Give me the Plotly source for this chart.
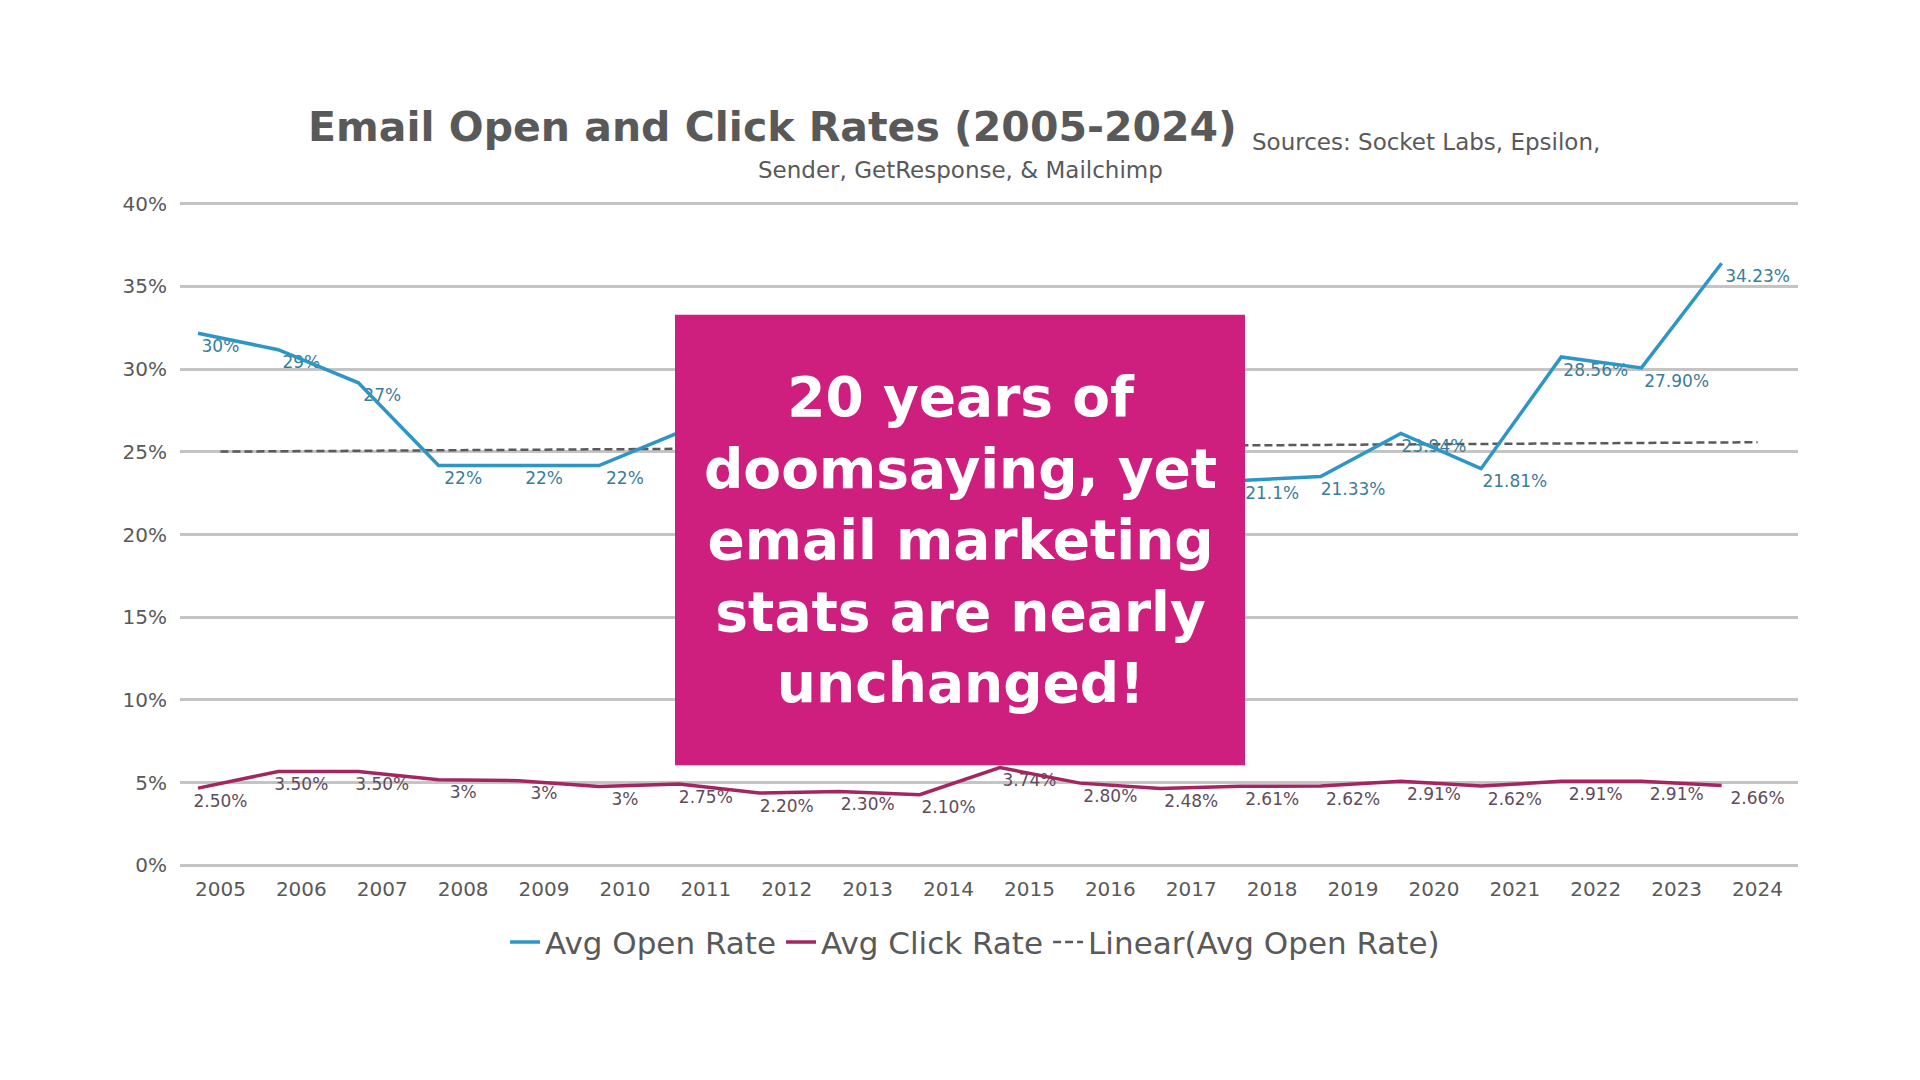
import numpy as np
import plotly.graph_objects as go

# ---------------- data ----------------
years = ["2005", "2006", "2007", "2008", "2009", "2010", "2011", "2012", "2013", "2014",
         "2015", "2016", "2017", "2018", "2019", "2020", "2021", "2022", "2023", "2024"]

# 2011-2017 open rates sit behind the call-out box in the source; estimated
open_rate = [30, 29, 27, 22, 22, 22, 24, 27.5, 27, 26,
             24.5, 24, 22, 21.1, 21.33, 23.94, 21.81, 28.56, 27.90, 34.23]
open_labels = ["30%", "29%", "27%", "22%", "22%", "22%", "", "", "", "",
               "", "", "", "21.1%", "21.33%", "23.94%", "21.81%", "28.56%", "27.90%", "34.23%"]

click_rate = [2.50, 3.50, 3.50, 3.0, 2.95, 2.6, 2.75, 2.20, 2.30, 2.10,
              3.74, 2.80, 2.48, 2.61, 2.62, 2.91, 2.62, 2.91, 2.91, 2.66]
click_labels = ["2.50%", "3.50%", "3.50%", "3%", "3%", "3%", "2.75%", "2.20%", "2.30%", "2.10%",
                "3.74%", "2.80%", "2.48%", "2.61%", "2.62%", "2.91%", "2.62%", "2.91%", "2.91%", "2.66%"]

y_ticks = [0, 5, 10, 15, 20, 25, 30, 35, 40]

# ---------------- layout geometry (pixels) ----------------
W, H = 1920, 1080
PL, PR = 180, 1798                 # plot area left / right
Y40_PX, Y0_PX = 204, 865           # pixel rows of the 40% and 0% gridlines
PAD = 0.1                          # small range padding so edge gridlines show
PPU = (Y0_PX - Y40_PX) / (y_ticks[-1] - y_ticks[0])
PT = Y40_PX - PAD * PPU
PB = Y0_PX + PAD * PPU
LINE_X0, LINE_STEP = 198, 80.19    # where the line layer sits
LINE_SHIFT = 2.17                  # line layer vertical offset (in % units)
LABEL_SHIFT = 1.3                  # data-label vertical offset (in % units)

def px(xp):
    return (xp - PL) / (PR - PL)

def py(yp):
    return (PB - yp) / (PB - PT)

idx = list(range(len(years)))

GRAY = "#595959"
BLUE = "#2E96C5"
PLUM = "#A32660"
FONT = "DejaVu Sans"

# linear trend of the open rate (Excel "Linear" trendline)
coef = np.polyfit(idx, open_rate, 1)
trend_x = [idx[0], idx[-1]]
trend_y = list(np.polyval(coef, trend_x))

fig = go.Figure()

fig.add_trace(go.Scatter(
    x=trend_x, y=trend_y, mode="lines", name="Linear(Avg Open Rate)",
    line=dict(color="#5a5a5a", width=2.5, dash="8px,4px"),
    xaxis="x", yaxis="y", legendrank=3))

fig.add_trace(go.Scatter(
    x=idx, y=open_rate, mode="lines", name="Avg Open Rate",
    line=dict(color=BLUE, width=3.5), xaxis="x2", yaxis="y2", legendrank=1))

fig.add_trace(go.Scatter(
    x=idx, y=click_rate, mode="lines", name="Avg Click Rate",
    line=dict(color=PLUM, width=3.5), xaxis="x2", yaxis="y2", legendrank=2))

fig.add_trace(go.Scatter(
    x=idx, y=open_rate, mode="text", text=open_labels, textposition="middle center",
    textfont=dict(family=FONT, size=17, color="#3b7d99"), showlegend=False,
    cliponaxis=False, xaxis="x", yaxis="y3", hoverinfo="skip"))

fig.add_trace(go.Scatter(
    x=idx, y=click_rate, mode="text", text=click_labels, textposition="middle center",
    textfont=dict(family=FONT, size=17, color="#5f4c5a"), showlegend=False,
    cliponaxis=False, xaxis="x", yaxis="y3", hoverinfo="skip"))

n = len(years)
y_lo, y_hi = y_ticks[0] - PAD, y_ticks[-1] + PAD
fig.update_layout(
    width=W, height=H,
    margin=dict(l=PL, r=W - PR, t=PT, b=H - PB, pad=0),
    paper_bgcolor="white", plot_bgcolor="white",
    font=dict(family=FONT, color=GRAY),
    xaxis=dict(range=[-0.5, n - 0.5], tickmode="array", tickvals=idx, ticktext=years,
               showgrid=False, zeroline=False, showline=False, ticks="",
               tickfont=dict(family=FONT, size=20, color=GRAY), ticklabelstandoff=8),
    xaxis2=dict(overlaying="x", anchor="y",
                range=[(PL - LINE_X0) / LINE_STEP, (PR - LINE_X0) / LINE_STEP],
                visible=False),
    yaxis=dict(range=[y_lo, y_hi], tickmode="array", tickvals=y_ticks,
               ticktext=[f"{v}%" for v in y_ticks],
               showgrid=True, gridcolor="#c4c4c4", gridwidth=2.5,
               zeroline=False, showline=False, ticks="",
               tickfont=dict(family=FONT, size=20, color=GRAY), ticklabelstandoff=12),
    yaxis2=dict(overlaying="y", anchor="x",
                range=[y_lo - LINE_SHIFT, y_hi - LINE_SHIFT], visible=False),
    yaxis3=dict(overlaying="y", anchor="x",
                range=[y_lo - LABEL_SHIFT, y_hi - LABEL_SHIFT], visible=False),
    legend=dict(orientation="h", x=px(975), xanchor="center", y=py(942), yanchor="middle",
                font=dict(family=FONT, size=31, color=GRAY), bgcolor="rgba(0,0,0,0)",
                traceorder="normal"),
    showlegend=True,
)

# highlight box
fig.add_shape(type="rect", xref="paper", yref="paper",
              x0=px(675), x1=px(1245), y0=py(765), y1=py(315),
              fillcolor="#CE1E7E", line=dict(width=0), layer="above")

fig.add_annotation(
    xref="paper", yref="paper", x=px(960), y=py(540), xanchor="center", yanchor="middle",
    text="20 years of<br>doomsaying, yet<br>email marketing<br>stats are nearly<br>unchanged!",
    showarrow=False, align="center",
    font=dict(family=FONT, size=55, color="white", weight="bold"))

# title and sources
fig.add_annotation(
    xref="paper", yref="paper", x=px(772), y=py(127), xanchor="center", yanchor="middle",
    text="<b>Email Open and Click Rates (2005-2024)</b>", showarrow=False,
    font=dict(family=FONT, size=41, color=GRAY))
fig.add_annotation(
    xref="paper", yref="paper", x=px(1250), y=py(142), xanchor="left", yanchor="middle",
    text="Sources: Socket Labs, Epsilon,", showarrow=False,
    font=dict(family=FONT, size=23, color=GRAY))
fig.add_annotation(
    xref="paper", yref="paper", x=px(960), y=py(170), xanchor="center", yanchor="middle",
    text="Sender, GetResponse, &amp; Mailchimp", showarrow=False,
    font=dict(family=FONT, size=23, color=GRAY))

fig.write_html("out.html")
